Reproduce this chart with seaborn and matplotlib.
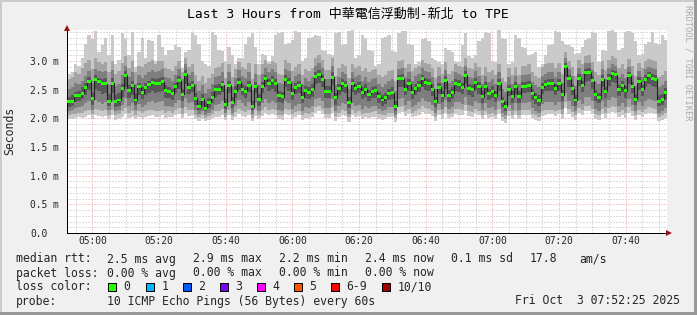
import numpy as np
import pandas as pd
import matplotlib
matplotlib.use("Agg")
import matplotlib.pyplot as plt
import matplotlib.dates as mdates
from matplotlib.ticker import MultipleLocator
from matplotlib.patches import Rectangle, Polygon
import seaborn as sns

# ---------------- data (milliseconds, one value per minute) ----------------
median_rtt = [
    2.30, 2.30, 2.39, 2.39, 2.44, 2.54, 2.65, 2.34, 2.68, 2.64, 2.60, 2.60, 2.30, 2.61, 2.30, 2.32, 2.52, 2.75, 2.48, 2.58, 2.32, 2.55, 2.45, 2.54, 2.59, 2.63, 2.60, 2.61, 2.64, 2.48,
    2.47, 2.43, 2.55, 2.66, 2.42, 2.77, 2.54, 2.58, 2.35, 2.20, 2.33, 2.18, 2.28, 2.37, 2.50, 2.51, 2.59, 2.24, 2.58, 2.28, 2.47, 2.63, 2.51, 2.47, 2.58, 2.20, 2.56, 2.33, 2.56, 2.69,
    2.61, 2.66, 2.60, 2.39, 2.38, 2.67, 2.62, 2.44, 2.54, 2.58, 2.37, 2.48, 2.45, 2.51, 2.73, 2.77, 2.68, 2.47, 2.47, 2.72, 2.36, 2.52, 2.60, 2.58, 2.28, 2.60, 2.52, 2.56, 2.45, 2.51,
    2.42, 2.47, 2.48, 2.38, 2.32, 2.37, 2.44, 2.45, 2.21, 2.69, 2.69, 2.51, 2.60, 2.45, 2.52, 2.58, 2.69, 2.62, 2.60, 2.51, 2.29, 2.54, 2.39, 2.66, 2.40, 2.45, 2.61, 2.59, 2.54, 2.75,
    2.52, 2.50, 2.62, 2.55, 2.38, 2.55, 2.44, 2.47, 2.39, 2.61, 2.29, 2.21, 2.51, 2.38, 2.55, 2.38, 2.56, 2.56, 2.58, 2.44, 2.36, 2.31, 2.54, 2.59, 2.60, 2.60, 2.52, 2.60, 2.41, 2.90,
    2.69, 2.52, 2.32, 2.70, 2.58, 2.80, 2.80, 2.66, 2.41, 2.36, 2.68, 2.47, 2.70, 2.79, 2.76, 2.51, 2.58, 2.48, 2.74, 2.56, 2.33, 2.64, 2.51, 2.68, 2.74, 2.70, 2.68, 2.30, 2.33, 2.45,
]

# sorted ping smoke: ping2..ping9 (outer light) ... ping5..ping6 (inner dark)
ping9 = [
    2.78, 2.80, 2.95, 2.92, 3.05, 3.30, 3.45, 3.38, 3.52, 3.15, 3.28, 3.40, 3.10, 3.45, 2.95, 3.02, 3.48, 3.38, 3.10, 3.50, 2.90, 3.15, 3.40, 3.05, 3.36, 3.35, 3.00, 3.46, 3.25, 3.10,
    3.19, 3.20, 3.28, 3.25, 2.88, 3.15, 3.20, 3.48, 3.45, 3.30, 3.00, 2.95, 2.92, 3.50, 3.45, 3.20, 3.18, 3.00, 3.25, 3.10, 2.95, 3.06, 3.05, 3.30, 3.42, 3.48, 3.25, 2.95, 3.12, 3.10,
    2.98, 3.08, 3.45, 3.48, 3.50, 3.30, 3.32, 3.36, 3.52, 3.50, 3.00, 3.05, 3.40, 3.42, 3.45, 3.44, 3.20, 3.18, 3.12, 3.10, 3.48, 3.50, 3.28, 3.30, 3.52, 3.54, 3.05, 3.10, 3.45, 3.40,
    3.20, 3.18, 2.92, 2.95, 3.40, 3.42, 3.45, 3.18, 3.15, 3.48, 3.52, 3.53, 3.30, 3.28, 2.95, 2.98, 3.38, 3.40, 3.35, 3.05, 3.02, 2.98, 2.95, 3.22, 3.20, 3.15, 2.99, 2.98, 3.28, 3.48,
    3.08, 3.05, 3.10, 3.35, 3.40, 3.50, 3.48, 3.00, 2.98, 3.54, 3.40, 3.38, 2.95, 2.98, 3.45, 3.40, 3.25, 3.22, 3.10, 3.12, 3.15, 2.90, 2.95, 3.10, 3.28, 3.30, 3.52, 3.50, 3.35, 3.30,
    3.28, 3.25, 3.12, 3.14, 3.25, 3.36, 3.40, 3.50, 3.48, 2.98, 3.20, 3.18, 3.53, 3.54, 3.50, 3.20, 3.22, 3.50, 3.52, 3.48, 3.35, 3.10, 3.12, 3.30, 3.34, 3.50, 3.32, 3.30, 3.45, 3.36,
]
ping8 = [
    2.68, 2.72, 2.80, 2.78, 2.88, 2.96, 3.02, 2.86, 3.06, 2.98, 2.94, 2.98, 2.80, 3.00, 2.78, 2.82, 2.96, 3.08, 2.88, 3.00, 2.80, 2.92, 2.90, 2.94, 2.98, 3.02, 2.94, 3.00, 3.00, 2.88,
    2.86, 2.82, 2.92, 3.00, 2.80, 3.05, 2.90, 2.95, 2.76, 2.66, 2.74, 2.62, 2.70, 2.78, 2.88, 2.90, 2.96, 2.70, 2.94, 2.72, 2.86, 2.98, 2.90, 2.86, 2.96, 2.68, 2.94, 2.76, 2.94, 3.02,
    2.94, 3.00, 2.96, 2.78, 2.76, 3.02, 2.96, 2.82, 2.90, 2.94, 2.76, 2.86, 2.82, 2.88, 3.06, 3.10, 3.02, 2.84, 2.84, 3.06, 2.74, 2.88, 2.94, 2.92, 2.70, 2.94, 2.88, 2.92, 2.82, 2.88,
    2.80, 2.84, 2.86, 2.76, 2.72, 2.76, 2.82, 2.84, 2.66, 3.00, 3.02, 2.88, 2.94, 2.82, 2.88, 2.92, 3.02, 2.96, 2.94, 2.88, 2.70, 2.90, 2.78, 2.98, 2.78, 2.82, 2.94, 2.92, 2.90, 3.05,
    2.88, 2.86, 2.96, 2.90, 2.76, 2.90, 2.80, 2.84, 2.76, 2.94, 2.70, 2.64, 2.88, 2.76, 2.90, 2.76, 2.92, 2.92, 2.94, 2.80, 2.74, 2.70, 2.90, 2.94, 2.96, 2.96, 2.88, 2.96, 2.78, 3.15,
    3.00, 2.90, 2.74, 3.02, 2.94, 3.08, 3.10, 2.98, 2.80, 2.76, 3.00, 2.84, 3.02, 3.08, 3.06, 2.88, 2.94, 2.86, 3.04, 2.92, 2.74, 2.96, 2.88, 3.00, 3.04, 3.02, 3.00, 2.72, 2.76, 2.82,
]
ping7 = [
    2.52, 2.55, 2.62, 2.60, 2.66, 2.74, 2.82, 2.62, 2.86, 2.82, 2.80, 2.82, 2.58, 2.84, 2.56, 2.60, 2.76, 2.92, 2.72, 2.80, 2.60, 2.76, 2.70, 2.76, 2.80, 2.84, 2.80, 2.82, 2.86, 2.72,
    2.70, 2.66, 2.76, 2.86, 2.68, 2.94, 2.76, 2.80, 2.60, 2.48, 2.58, 2.45, 2.52, 2.60, 2.72, 2.74, 2.80, 2.52, 2.80, 2.55, 2.70, 2.84, 2.74, 2.70, 2.80, 2.50, 2.78, 2.58, 2.78, 2.88,
    2.80, 2.86, 2.80, 2.62, 2.60, 2.86, 2.82, 2.66, 2.74, 2.78, 2.60, 2.70, 2.66, 2.72, 2.92, 2.96, 2.88, 2.68, 2.68, 2.92, 2.58, 2.72, 2.80, 2.78, 2.52, 2.80, 2.72, 2.76, 2.66, 2.72,
    2.64, 2.68, 2.70, 2.60, 2.55, 2.60, 2.66, 2.68, 2.48, 2.86, 2.88, 2.72, 2.80, 2.66, 2.74, 2.78, 2.88, 2.82, 2.80, 2.72, 2.52, 2.74, 2.62, 2.84, 2.62, 2.66, 2.80, 2.78, 2.74, 2.92,
    2.72, 2.70, 2.82, 2.74, 2.60, 2.74, 2.64, 2.68, 2.60, 2.80, 2.52, 2.46, 2.72, 2.60, 2.74, 2.60, 2.76, 2.76, 2.78, 2.64, 2.58, 2.54, 2.74, 2.78, 2.80, 2.80, 2.72, 2.80, 2.62, 3.05,
    2.86, 2.74, 2.56, 2.88, 2.78, 2.96, 2.96, 2.84, 2.64, 2.60, 2.86, 2.68, 2.88, 2.95, 2.92, 2.72, 2.78, 2.70, 2.90, 2.76, 2.56, 2.82, 2.72, 2.86, 2.90, 2.88, 2.86, 2.55, 2.58, 2.66,
]
ping6 = [
    2.38, 2.40, 2.46, 2.48, 2.55, 2.62, 2.72, 2.45, 2.76, 2.70, 2.68, 2.70, 2.42, 2.70, 2.40, 2.44, 2.60, 2.82, 2.58, 2.66, 2.44, 2.62, 2.55, 2.62, 2.66, 2.70, 2.68, 2.70, 2.72, 2.58,
    2.55, 2.52, 2.62, 2.74, 2.52, 2.84, 2.62, 2.66, 2.45, 2.30, 2.42, 2.28, 2.36, 2.46, 2.58, 2.60, 2.66, 2.34, 2.66, 2.38, 2.56, 2.70, 2.60, 2.56, 2.66, 2.30, 2.64, 2.42, 2.64, 2.76,
    2.68, 2.74, 2.68, 2.48, 2.46, 2.75, 2.70, 2.53, 2.62, 2.66, 2.46, 2.56, 2.54, 2.60, 2.80, 2.84, 2.76, 2.56, 2.56, 2.80, 2.45, 2.60, 2.68, 2.66, 2.38, 2.68, 2.60, 2.64, 2.54, 2.60,
    2.50, 2.55, 2.56, 2.46, 2.40, 2.45, 2.52, 2.54, 2.30, 2.76, 2.77, 2.60, 2.68, 2.54, 2.60, 2.66, 2.76, 2.70, 2.68, 2.60, 2.38, 2.62, 2.48, 2.74, 2.49, 2.54, 2.68, 2.67, 2.62, 2.82,
    2.60, 2.58, 2.70, 2.63, 2.47, 2.63, 2.52, 2.56, 2.48, 2.69, 2.38, 2.30, 2.59, 2.47, 2.63, 2.47, 2.64, 2.64, 2.66, 2.52, 2.45, 2.40, 2.62, 2.67, 2.68, 2.68, 2.60, 2.68, 2.50, 2.96,
    2.76, 2.60, 2.41, 2.77, 2.66, 2.86, 2.87, 2.74, 2.50, 2.45, 2.76, 2.55, 2.77, 2.85, 2.83, 2.59, 2.66, 2.56, 2.81, 2.64, 2.42, 2.72, 2.59, 2.75, 2.81, 2.77, 2.75, 2.40, 2.42, 2.53,
]
ping5 = [
    2.20, 2.22, 2.28, 2.30, 2.34, 2.40, 2.50, 2.24, 2.52, 2.48, 2.42, 2.45, 2.22, 2.44, 2.20, 2.22, 2.38, 2.55, 2.35, 2.40, 2.24, 2.40, 2.34, 2.40, 2.44, 2.48, 2.45, 2.46, 2.48, 2.36,
    2.36, 2.32, 2.44, 2.52, 2.30, 2.60, 2.42, 2.46, 2.24, 2.14, 2.22, 2.12, 2.18, 2.26, 2.38, 2.40, 2.46, 2.16, 2.44, 2.18, 2.36, 2.50, 2.40, 2.36, 2.46, 2.14, 2.44, 2.22, 2.44, 2.55,
    2.48, 2.52, 2.46, 2.28, 2.26, 2.54, 2.48, 2.32, 2.42, 2.45, 2.26, 2.36, 2.34, 2.38, 2.60, 2.62, 2.55, 2.35, 2.35, 2.58, 2.24, 2.40, 2.46, 2.44, 2.18, 2.46, 2.40, 2.44, 2.33, 2.38,
    2.30, 2.35, 2.36, 2.26, 2.21, 2.25, 2.32, 2.33, 2.12, 2.54, 2.55, 2.40, 2.47, 2.34, 2.40, 2.46, 2.55, 2.49, 2.47, 2.39, 2.19, 2.42, 2.28, 2.52, 2.29, 2.34, 2.48, 2.46, 2.42, 2.60,
    2.40, 2.38, 2.50, 2.43, 2.27, 2.43, 2.32, 2.35, 2.28, 2.48, 2.19, 2.12, 2.39, 2.27, 2.43, 2.27, 2.44, 2.44, 2.46, 2.32, 2.25, 2.21, 2.42, 2.47, 2.48, 2.48, 2.40, 2.48, 2.30, 2.72,
    2.55, 2.40, 2.22, 2.56, 2.46, 2.64, 2.65, 2.52, 2.30, 2.26, 2.54, 2.35, 2.56, 2.64, 2.62, 2.39, 2.46, 2.36, 2.60, 2.44, 2.23, 2.50, 2.39, 2.54, 2.60, 2.56, 2.54, 2.21, 2.23, 2.34,
]
ping4 = [
    2.12, 2.14, 2.18, 2.20, 2.22, 2.26, 2.30, 2.15, 2.32, 2.28, 2.25, 2.28, 2.14, 2.30, 2.12, 2.14, 2.24, 2.35, 2.22, 2.26, 2.14, 2.25, 2.20, 2.24, 2.28, 2.30, 2.26, 2.28, 2.30, 2.22,
    2.22, 2.20, 2.26, 2.32, 2.18, 2.36, 2.26, 2.28, 2.14, 2.08, 2.12, 2.06, 2.10, 2.15, 2.24, 2.25, 2.30, 2.10, 2.28, 2.10, 2.22, 2.32, 2.26, 2.22, 2.28, 2.07, 2.27, 2.12, 2.27, 2.34,
    2.26, 2.30, 2.26, 2.14, 2.12, 2.30, 2.27, 2.16, 2.22, 2.25, 2.12, 2.20, 2.18, 2.22, 2.34, 2.36, 2.30, 2.18, 2.18, 2.33, 2.12, 2.22, 2.26, 2.25, 2.08, 2.26, 2.22, 2.24, 2.17, 2.22,
    2.18, 2.21, 2.22, 2.16, 2.12, 2.15, 2.19, 2.20, 2.06, 2.34, 2.35, 2.24, 2.30, 2.20, 2.24, 2.28, 2.35, 2.30, 2.29, 2.24, 2.10, 2.25, 2.16, 2.32, 2.17, 2.20, 2.29, 2.28, 2.25, 2.38,
    2.24, 2.22, 2.30, 2.26, 2.14, 2.26, 2.18, 2.20, 2.15, 2.30, 2.10, 2.05, 2.24, 2.15, 2.26, 2.15, 2.27, 2.27, 2.28, 2.18, 2.13, 2.10, 2.25, 2.28, 2.29, 2.29, 2.24, 2.29, 2.16, 2.45,
    2.30, 2.22, 2.12, 2.32, 2.25, 2.38, 2.38, 2.30, 2.16, 2.13, 2.30, 2.20, 2.32, 2.37, 2.35, 2.22, 2.26, 2.20, 2.34, 2.24, 2.12, 2.28, 2.22, 2.30, 2.34, 2.32, 2.30, 2.10, 2.12, 2.18,
]
ping3 = [
    2.05, 2.07, 2.08, 2.10, 2.10, 2.12, 2.15, 2.08, 2.16, 2.14, 2.12, 2.14, 2.06, 2.15, 2.05, 2.07, 2.12, 2.18, 2.10, 2.12, 2.06, 2.12, 2.10, 2.12, 2.14, 2.15, 2.12, 2.13, 2.15, 2.10,
    2.12, 2.10, 2.14, 2.18, 2.08, 2.20, 2.14, 2.15, 2.06, 2.02, 2.05, 2.00, 2.04, 2.07, 2.12, 2.12, 2.16, 2.03, 2.15, 2.04, 2.11, 2.17, 2.13, 2.11, 2.15, 2.01, 2.14, 2.05, 2.14, 2.19,
    2.14, 2.17, 2.14, 2.06, 2.05, 2.17, 2.15, 2.07, 2.11, 2.13, 2.05, 2.09, 2.08, 2.11, 2.20, 2.22, 2.17, 2.08, 2.08, 2.19, 2.04, 2.10, 2.14, 2.13, 2.02, 2.14, 2.10, 2.12, 2.07, 2.10,
    2.09, 2.11, 2.12, 2.07, 2.05, 2.06, 2.10, 2.10, 2.00, 2.20, 2.21, 2.13, 2.17, 2.10, 2.13, 2.16, 2.21, 2.18, 2.17, 2.13, 2.03, 2.14, 2.07, 2.19, 2.08, 2.10, 2.17, 2.16, 2.14, 2.24,
    2.12, 2.11, 2.16, 2.13, 2.06, 2.13, 2.08, 2.10, 2.06, 2.16, 2.03, 1.99, 2.12, 2.06, 2.13, 2.06, 2.14, 2.14, 2.15, 2.08, 2.05, 2.03, 2.12, 2.15, 2.15, 2.15, 2.12, 2.15, 2.07, 2.28,
    2.17, 2.11, 2.05, 2.18, 2.14, 2.22, 2.22, 2.16, 2.07, 2.05, 2.16, 2.10, 2.18, 2.21, 2.20, 2.11, 2.14, 2.10, 2.19, 2.13, 2.05, 2.15, 2.11, 2.16, 2.19, 2.18, 2.16, 2.03, 2.05, 2.09,
]
ping2 = [
    1.98, 1.99, 2.00, 2.02, 2.01, 2.03, 2.05, 1.99, 2.06, 2.04, 2.02, 2.04, 1.98, 2.05, 1.97, 1.98, 2.03, 2.08, 2.01, 2.02, 1.98, 2.03, 2.01, 2.02, 2.04, 2.05, 2.03, 2.03, 2.05, 2.01,
    2.03, 2.02, 2.05, 2.08, 2.00, 2.10, 2.04, 2.06, 1.99, 1.96, 1.98, 1.95, 1.97, 2.00, 2.03, 2.03, 2.06, 1.97, 2.05, 1.97, 2.02, 2.07, 2.04, 2.02, 2.05, 1.96, 2.04, 1.98, 2.04, 2.09,
    2.05, 2.08, 2.05, 1.98, 1.97, 2.08, 2.06, 1.99, 2.03, 2.05, 1.97, 2.01, 2.00, 2.03, 2.10, 2.12, 2.08, 2.00, 2.00, 2.10, 1.96, 2.02, 2.05, 2.04, 1.94, 2.05, 2.02, 2.04, 1.99, 2.02,
    2.01, 2.03, 2.03, 1.99, 1.97, 1.98, 2.02, 2.02, 1.93, 2.10, 2.11, 2.04, 2.07, 2.02, 2.04, 2.06, 2.11, 2.08, 2.07, 2.04, 1.96, 2.05, 1.99, 2.09, 2.00, 2.02, 2.07, 2.06, 2.05, 2.13,
    2.04, 2.03, 2.07, 2.05, 1.98, 2.05, 2.00, 2.02, 1.98, 2.07, 1.95, 1.92, 2.04, 1.98, 2.05, 1.98, 2.06, 2.06, 2.06, 2.00, 1.97, 1.95, 2.04, 2.06, 2.07, 2.07, 2.04, 2.07, 1.99, 2.18,
    2.08, 2.03, 1.97, 2.09, 2.05, 2.12, 2.12, 2.07, 1.99, 1.97, 2.07, 2.01, 2.09, 2.11, 2.10, 2.03, 2.05, 2.01, 2.10, 2.04, 1.97, 2.06, 2.03, 2.07, 2.10, 2.09, 2.07, 1.95, 1.97, 2.00,
]

x_tick_labels = ["05:00", "05:20", "05:40", "06:00", "06:20", "06:40", "07:00", "07:20", "07:40"]
y_tick_values = [0.0, 0.5, 1.0, 1.5, 2.0, 2.5, 3.0]
y_tick_labels = ["0.0", "0.5 m", "1.0 m", "1.5 m", "2.0 m", "2.5 m", "3.0 m"]

loss_labels = ["0", "1", "2", "3", "4", "5", "6-9", "10/10"]
loss_colors = ["#26ff00", "#00b8ff", "#0059ff", "#7e00ff", "#ff00ff", "#ff5500", "#ff0000", "#a10000"]

stats_rtt = ["2.5 ms avg", "2.9 ms max", "2.2 ms min", "2.4 ms now", "0.1 ms sd", "17.8", "am/s"]
stats_loss = ["0.00 % avg", "0.00 % max", "0.00 % min", "0.00 % now"]

# ---------------- figure ----------------
sns.set_style("white")
plt.rcParams["font.family"] = ["DejaVu Sans Mono", "Noto Sans CJK TC"]

W, H = 697, 315
fig = plt.figure(figsize=(W / 100, H / 100), dpi=100, facecolor="#f0f0f0")


def fx(x):
    return x / W


def fy(y):
    return 1 - y / H


# frame shading
fig.add_artist(Rectangle((0, fy(2)), 1, 2 / H, transform=fig.transFigure, color="#cbcbcb", lw=0))
fig.add_artist(Rectangle((0, 0), 2 / W, 1, transform=fig.transFigure, color="#cbcbcb", lw=0))
fig.add_artist(Rectangle((fx(694), 0), 3 / W, 1, transform=fig.transFigure, color="#999999", lw=0))
fig.add_artist(Rectangle((0, 0), 1, 3 / H, transform=fig.transFigure, color="#999999", lw=0))

ax = fig.add_axes([fx(67), fy(233), 600 / W, 203 / H])
ax.set_facecolor("white")

start = pd.Timestamp("2025-10-03 04:52:25")
end = pd.Timestamp("2025-10-03 07:52:25")
edges = pd.date_range("2025-10-03 04:52:30", periods=len(median_rtt) + 1, freq="min")
xe = mdates.date2num(edges.to_pydatetime())


def ext(a):
    a = np.asarray(a, dtype=float)
    return np.append(a, a[-1])


bands = [
    (ping2, ping9, "#cacaca"),
    (ping3, ping8, "#a4a4a4"),
    (ping4, ping7, "#7e7e7e"),
    (ping5, ping6, "#585858"),
]
for lo, hi, col in bands:
    ax.fill_between(xe, ext(lo), ext(hi), step="post", color=col, lw=0, zorder=2)

df = pd.DataFrame({"t": xe, "median": ext(median_rtt)})
sns.lineplot(data=df, x="t", y="median", drawstyle="steps-post", color="#202020",
             lw=0.8, estimator=None, ax=ax, zorder=3)

med = np.asarray(median_rtt)
hw = 0.026
ax.bar(xe[:-1], 2 * hw, bottom=med - hw, width=np.diff(xe), align="edge",
       color=loss_colors[0], lw=0, zorder=4)

ax.set_xlim(mdates.date2num(start.to_pydatetime()), mdates.date2num(end.to_pydatetime()))
ax.set_ylim(0, 3.541)

ax.xaxis.set_major_locator(mdates.MinuteLocator(byminute=[0, 20, 40]))
ax.xaxis.set_minor_locator(mdates.MinuteLocator(byminute=range(0, 60, 5)))
ax.xaxis.set_major_formatter(mdates.DateFormatter("%H:%M"))
ax.set_yticks(y_tick_values)
ax.set_yticklabels(y_tick_labels)
ax.yaxis.set_minor_locator(MultipleLocator(0.1))

dot = (0, (1, 2))
ax.set_axisbelow(True)
ax.grid(which="major", axis="both", color="#eb9a9a", ls=dot, lw=0.72)
ax.grid(which="minor", axis="both", color="#bdbdbd", ls=dot, lw=0.72)

for s in ["top", "right"]:
    ax.spines[s].set_visible(False)
for s in ["left", "bottom"]:
    ax.spines[s].set_color("black")
    ax.spines[s].set_linewidth(0.72)

ax.tick_params(axis="y", which="major", length=2.16, width=0.72, pad=24.5,
               labelsize=6.9, direction="out")
for lab in ax.get_yticklabels():
    lab.set_horizontalalignment("left")
ax.tick_params(axis="x", which="major", length=2.9, width=0.72, pad=1.0,
               labelsize=6.9, direction="inout")
ax.tick_params(which="minor", length=0)
ax.set_xlabel("")
ax.set_ylabel("")

# arrows
arrow_col = "#961414"
fig.add_artist(Polygon([[fx(666), fy(230)], [fx(666), fy(236)], [fx(672), fy(233)]],
                       closed=True, transform=fig.transFigure, color=arrow_col, lw=0))
fig.add_artist(Polygon([[fx(64), fy(31)], [fx(70), fy(31)], [fx(67), fy(25)]],
                       closed=True, transform=fig.transFigure, color=arrow_col, lw=0))

# title and side labels
fig.text(fx(348), fy(14), "Last 3 Hours from 中華電信浮動制-新北 to TPE",
         ha="center", va="center", fontsize=9.4, color="black")
fig.text(fx(10), fy(131), "Seconds", rotation=90, ha="center", va="center", fontsize=8.3)
fig.text(fx(688), fy(5), "RRDTOOL / TOBI OETIKER", rotation=-90, ha="center", va="top",
         fontsize=6.2, color="#aaaaaa")

# legend rows
LF = 8.3
rows_y = [262.5, 276.5, 290.5, 304.5]
fig.text(fx(16), fy(rows_y[0]), "median rtt:", fontsize=LF, va="baseline")
for xpos, s in zip([107, 193, 279, 365, 451, 530, 579], stats_rtt):
    fig.text(fx(xpos), fy(rows_y[0]), s, fontsize=LF, va="baseline")
fig.text(fx(16), fy(rows_y[1]), "packet loss:", fontsize=LF, va="baseline")
for xpos, s in zip([107, 193, 279, 365], stats_loss):
    fig.text(fx(xpos), fy(rows_y[1]), s, fontsize=LF, va="baseline")
fig.text(fx(16), fy(rows_y[2]), "loss color:", fontsize=LF, va="baseline")
box_x = [108, 146, 183, 220, 257, 294, 331, 382]
for bx, lab, col in zip(box_x, loss_labels, loss_colors):
    fig.add_artist(Rectangle((fx(bx), fy(291)), 8 / W, 8 / H, transform=fig.transFigure,
                             facecolor=col, edgecolor="black", lw=0.72))
    fig.text(fx(bx + 15.5), fy(rows_y[2]), lab, fontsize=LF, va="baseline")
fig.text(fx(16), fy(rows_y[3]), "probe:", fontsize=LF, va="baseline")
fig.text(fx(107), fy(rows_y[3]), "10 ICMP Echo Pings (56 Bytes) every 60s", fontsize=LF, va="baseline")
fig.text(fx(680), fy(rows_y[3]), "Fri Oct  3 07:52:25 2025", fontsize=LF, va="baseline", ha="right")

fig.savefig("out.png", dpi=100, facecolor=fig.get_facecolor())
